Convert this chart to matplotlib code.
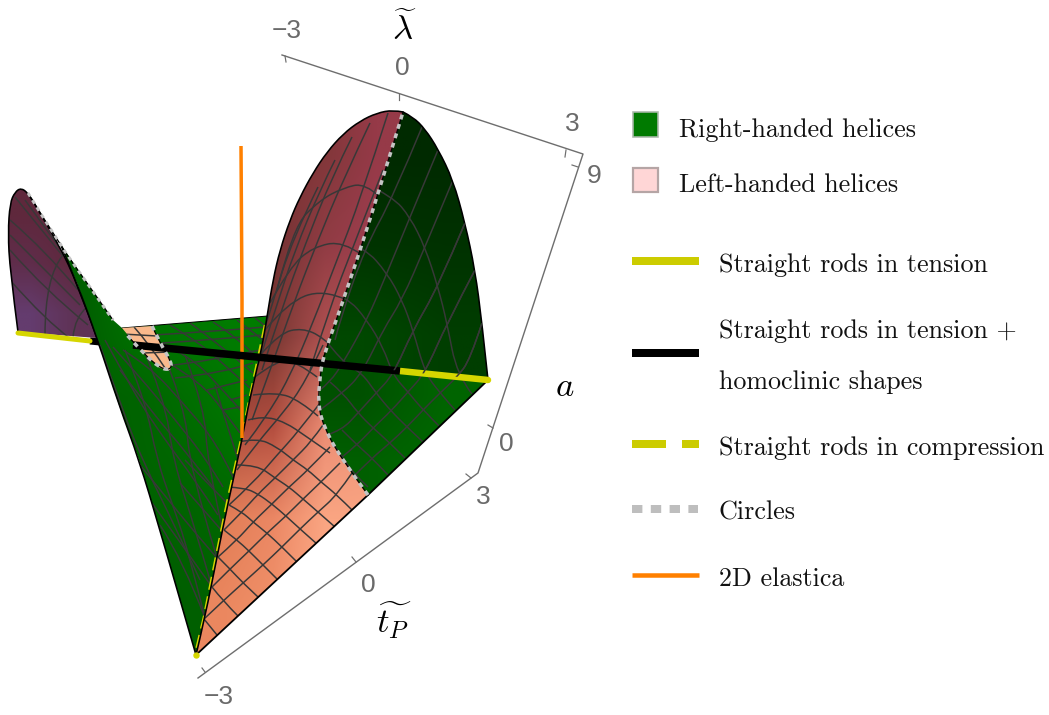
import matplotlib
matplotlib.use('Agg')
import matplotlib.pyplot as plt
import numpy as np
from matplotlib.patches import Polygon, Rectangle, PathPatch
from matplotlib.path import Path

px = 0.72   # one pixel in points at dpi 100

# surface outlines (pixels)
pink_left = [(403,112),(393,110),(377,113),(360,121),(343,134),(327,152),(313,173),(300,197),(290,220),(280,250),(273,280),(267,317),(262,347),(255,377),(248,407),(242,440),(228,503),(217,557),(205,617),(196,655)]
circle_curve = [(368,495),(340,457),(323,425),(318,403),(320,377),(323,357),(347,290),(377,198),(403,112)]
right_curve = [(403,112),(413,117),(425,129),(438,149),(453,180),(465,223),(475,270),(482,323),(488,380)]
rod_line = [(323,361),(400,371),(488,380)]
purple_out = [(18,332),(10,270),(8,233),(10,203),(15,192),(21,188),(28,193),(40,213),(60,247),(77,283),(97,338)]
green_left = [(60,243),(77,283),(97,338),(119,405),(139,460),(160,530),(196,655)]
green_right = [(196,655),(205,617),(217,557),(228,503),(242,440),(248,407),(268,316),(122,328),(113,320),(85,280)]
small_pink = [(122,328),(152,326),(160,343),(172,363),(170,370),(160,368),(143,353),(132,340)]

# colours across the surfaces (rows top to bottom, cols left to right)
pink_grid = [[(120,50,50),(120,50,50),(130,55,58),(150,58,72)],
             [(110,50,50),(115,50,50),(145,60,68),(160,62,80)],
             [(90,45,45),(120,55,50),(175,80,80),(195,88,88)],
             [(170,75,60),(180,78,63),(235,140,115),(240,150,125)],
             [(225,125,85),(235,135,100),(250,165,130),(250,165,130)],
             [(235,135,95),(240,145,105),(255,170,135),(255,170,135)]]
dark_grid = [[(0,42,0),(0,42,0)],[(0,52,0),(0,50,0)],[(0,72,0),(0,62,0)]]
low_grid = [[(0,80,0),(0,100,0)],[(0,95,0),(0,105,0)]]
green_grid = [[(0,95,0),(0,120,0),(0,125,0),(0,125,0)],
              [(0,95,0),(0,100,0),(0,110,0),(0,122,0)],
              [(0,95,0),(0,98,0),(0,100,0),(0,105,0)],
              [(0,90,0),(0,90,0),(0,95,0),(0,100,0)]]
purple_grid = [[(95,40,60),(95,40,60)],[(95,45,75),(95,40,60)],[(100,60,110),(95,50,85)]]

# mesh lines
pink_mesh = [
    [(204,619),(223,601),(243,583),(263,565),(282,547),(300,529),(318,512),(337,495),(352,473)],
    [(212,587),(230,569),(249,551),(267,533),(286,516),(303,499),(321,482),(340,463)],
    [(218,557),(237,540),(253,522),(272,504),(289,487),(308,470),(330,447)],
    [(224,530),(242,512),(258,494),(275,478),(293,460),(311,442),(323,425)],
    [(229,505),(253,483),(277,455),(298,432),(320,403)],
    [(237,470),(257,443),(283,413),(305,383),(323,345)],
    [(204,619),(217,635)],
    [(212,587),(223,601),(238,616)],
    [(218,557),(230,569),(243,583),(258,597)],
    [(224,530),(237,540),(249,551),(263,565),(278,580)],
    [(229,505),(242,512),(253,522),(267,533),(282,547),(297,562)],
    [(228,487),(245,488),(258,494),(272,504),(286,516),(300,529),(317,544)],
    [(237,465),(257,465),(275,478),(289,487),(303,499),(318,512),(335,527)],
    [(238,442),(257,438),(277,447),(293,460),(308,470),(321,482),(337,495),(352,510)],
    [(248,420),(263,416),(285,422),(307,437),(330,453)],
    [(253,395),(277,392),(300,401),(318,416)],
    [(255,377),(277,360),(297,362),(317,377)],
    [(262,353),(280,333),(302,328),(323,337),(335,350)],
    [(265,330),(287,303),(323,289),(347,300)],
    [(270,303),(290,267),(313,247),(343,241),(362,255)],
    [(277,290),(293,227),(320,200),(343,188),(365,183),(380,197)],
    [(388,113),(360,200),(337,260),(312,325),(292,372),(268,415),(245,445)],
    [(370,123),(343,180),(318,240),(293,305),(272,365),(252,420)],
    [(352,137),(332,177),(305,245),(283,305),(262,370)],
    [(335,160),(320,190),(295,250),(275,310),(258,365)],
    [(318,187),(292,240),(272,305),(258,350)],
    [(383,170),(353,247),(330,307),(310,370)],
]
right_mesh = [
    [(355,475),(372,458),(390,443),(407,427),(423,410),(440,393),(457,377),(470,360),(482,323)],
    [(342,457),(357,445),(373,428),(391,411),(408,392),(425,373),(447,323),(475,270)],
    [(327,435),(342,430),(358,413),(376,393),(393,375),(413,330),(438,287),(465,223)],
    [(320,410),(343,393),(362,373),(383,330),(402,300),(425,247),(453,180)],
    [(320,390),(330,382),(343,363),(367,320),(387,273),(410,217),(438,150)],
    [(335,340),(340,320),(365,248),(393,197),(422,127)],
    [(365,183),(393,197),(410,217),(425,247),(438,287),(447,323),(457,375),(472,394)],
    [(343,241),(365,248),(387,273),(402,300),(413,330),(425,373),(440,393),(455,410)],
    [(323,289),(347,297),(367,320),(383,347),(393,375),(408,392),(423,410),(439,426)],
    [(323,337),(343,363),(362,373),(376,393),(391,411),(407,427),(423,442)],
    [(330,382),(343,393),(358,413),(373,428),(390,443),(405,458)],
    [(342,430),(357,445),(372,458),(388,475)],
    [(327,435),(342,457),(355,475),(368,487)],
]
green_mesh = [
    [(170,325),(200,343),(230,370),(250,388)],
    [(190,323),(223,347),(253,373)],
    [(213,322),(237,337),(260,360)],
    [(237,320),(263,340)],
    [(255,318),(268,328)],
    [(162,343),(190,357),(217,383),(243,413)],
    [(172,365),(200,382),(223,410),(240,433)],
    [(123,350),(150,367),(183,403),(217,443),(233,477)],
    [(113,347),(140,377),(173,417),(207,460),(223,487)],
    [(120,370),(150,410),(187,453),(213,487)],
    [(105,340),(135,395),(165,440),(195,480),(218,515)],
    [(100,345),(122,410),(147,470),(172,520),(200,580)],
    [(140,465),(170,502),(197,535),(217,558)],
    [(152,503),(177,538),(212,587)],
    [(160,525),(183,560),(205,618)],
    [(180,483),(223,532)],
    [(185,460),(227,503)],
    [(125,350),(145,400),(157,460),(172,503),(188,550),(205,618)],
    [(140,340),(165,400),(173,460),(197,535),(212,587)],
    [(160,345),(185,405),(190,470),(217,558)],
    [(185,355),(205,410),(207,460),(223,532)],
    [(215,385),(228,430),(240,465)],
    [(153,335),(207,332),(265,327)],
    [(162,343),(210,340),(263,335)],
    [(173,365),(203,362),(260,350)],
    [(175,378),(223,373),(253,363)],
    [(207,390),(247,380)],
    [(222,410),(240,407)],
    [(230,400),(247,395)],
]
purple_mesh = [
    [(15,197),(62,255)],
    [(25,200),(65,255)],
    [(10,220),(45,250),(78,290)],
    [(10,235),(45,270),(80,305)],
    [(10,250),(45,290),(88,325)],
    [(10,280),(45,320),(72,340)],
    [(45,335),(45,277),(63,255)],
    [(73,337),(75,317),(87,307)],
]
small_mesh = [
    [(134,327),(150,345),(165,368)],
    [(122,334),(157,336)],
    [(143,353),(170,352)],
]

# rods and special curves
yellow_left = [(18,333),(90,341)]
black_a = [(90,341),(100,342)]
black_b = [(133,345),(400,371)]
yellow_right = [(400,371),(488,380)]
yellow_edge = [(266,325),(242,440),(228,503),(217,557),(205,617),(196,655)]
orange_line = [(241,146),(242,300),(242,438)]
ridge_dots = [(28,193),(60,245),(85,280),(113,320)]
small_dots = [(152,326),(160,343),(172,363),(170,370),(160,368),(143,353),(127,335)]

# box and ticks
box_line = [(282,55),(583,154),(478,473),(198,678)]
tick_lines = [[(285,56),(286,62)],[(399,94),(399,100)],[(566,150),(565,157)],[(572,165),(578,167)],
              [(488,425),(493,428)],[(466,474),(471,478)],[(352,557),(356,562)],[(202,668),(205,672)]]
tick_text = ['\u22123','0','3','9','0','3','0','\u22123']
tick_pos = [(287,31),(402,68),(572,124),(594,176),(506,444),(483,497),(368,585),(219,697)]

# legend
legend_names = ['Right-handed helices','Left-handed helices','Straight rods in tension','Straight rods in tension +',
                'homoclinic shapes','Straight rods in compression','Circles','2D elastica']
legend_y = [130,185,265,331,382,448,513,579]
legend_x = [679,679,719,719,719,719,719,719]


def xy(pts):
    a = np.array(pts, dtype=float)
    return a[:,0], a[:,1]

# rounds the corners of a read-off polyline with quadratic curves
def smooth(pts):
    a = np.array(pts, dtype=float)
    if len(a) < 3:
        return Path(a)
    verts = [a[0]]
    codes = [Path.MOVETO]
    for i in range(1, len(a)-1):
        end = a[-1] if i == len(a)-2 else (a[i]+a[i+1])/2
        verts += [a[i], end]
        codes += [Path.CURVE3, Path.CURVE3]
    return Path(verts, codes)

def flat(pts):
    return [tuple(v) for v in smooth(pts).to_polygons(closed_only=False)[0]]

def shade(grid, pts):
    a = np.array(pts, dtype=float)
    x0, x1, y0, y1 = a[:,0].min(), a[:,0].max(), a[:,1].min(), a[:,1].max()
    poly = Polygon(a, closed=True, transform=ax.transData, fc='none', ec='none')
    ax.add_patch(poly)
    im = ax.imshow(np.array(grid, dtype=float)/255, extent=[x0,x1,y1,y0], interpolation='bilinear', aspect='auto', zorder=z[0])
    im.set_clip_path(poly)
    z[0] += 1
    return poly

def curve(pts, c='black', w=1.5, **kw):
    pp = PathPatch(smooth(pts), fc='none', ec=c, lw=w*px, zorder=z[0], **kw)
    ax.add_patch(pp)
    return pp

def mesh(lines, poly, c='#383838', w=1.5):
    for l in lines:
        pp = curve(l, c=c, w=w)
        pp.set_clip_path(poly)
    z[0] += 1

def edge(pts, w=1.6):
    curve(pts, w=w, capstyle='round')
    z[0] += 1

fig = plt.figure(figsize=(10.49,7.15), dpi=100)
ax = fig.add_axes([0,0,1,1])
z = [2]

# box
x, y = xy(box_line)
ax.plot(x, y, color='#6e6e6e', lw=1.4*px, zorder=1)
for t in tick_lines:
    x, y = xy(t)
    ax.plot(x, y, color='#6e6e6e', lw=1.2*px, zorder=1)
for s, p in zip(tick_text, tick_pos):
    ax.text(p[0], p[1], s, family='Liberation Sans', fontsize=19, color='#6a6a6a', ha='center', va='center')

plt.rcParams['mathtext.fontset'] = 'cm'
ax.text(404, 29, r'$\widetilde{\lambda}$', fontsize=25, ha='center', va='center')
ax.text(565, 386, r'$a$', fontsize=25, ha='center', va='center')
ax.text(394, 621, r'$\widetilde{t_P}$', fontsize=25, ha='center', va='center')

# purple sheet
pu = shade(purple_grid, flat(purple_out))
mesh(purple_mesh, pu)
edge(purple_out)

# black stub behind the green ridge
x, y = xy(black_a)
ax.plot(x, y, color='black', lw=7*px, solid_capstyle='butt', zorder=z[0])
z[0] += 1

# green sheet
g = shade(green_grid, green_left + green_right[1:])
mesh(green_mesh, g)
edge(green_left)
edge(green_right[6:8], w=1.0)

# small pink patch
s = Polygon(np.array(small_pink, dtype=float), closed=True, fc='#fab98c', ec='none', zorder=z[0])
ax.add_patch(s)
z[0] += 1
mesh(small_mesh, s)

# yellow dashes peeping out along the fold
x, y = xy(yellow_edge)
ax.plot(np.array(x)-1.2, y, color='#d6d600', lw=2.2*px, ls=(0,(6,3)), dash_capstyle='butt', zorder=z[0])
z[0] += 1

# big pink sheet
pk = shade(pink_grid, flat(pink_left) + flat(circle_curve))
mesh(pink_mesh, pk)

# right dark sheet, cut at the rod line
up = shade(dark_grid, flat(right_curve) + rod_line[::-1] + flat(circle_curve[5:]))
lw = shade(low_grid, rod_line + flat(circle_curve[:5]))
mesh(right_mesh, up)
mesh(right_mesh, lw)

edge(pink_left)
edge(right_curve)
edge([(196,655),(368,495)], w=1.8)
edge([(368,495),(488,380)], w=1.8)

# orange stays under the black rod
x, y = xy(orange_line)
ax.plot(x, y, color='#ff8000', lw=3.5*px, solid_capstyle='butt', zorder=z[0])
z[0] += 1

# rods
x, y = xy(yellow_left)
ax.plot(x, y, color='#d6d600', lw=5*px, solid_capstyle='round', zorder=z[0])
x, y = xy(yellow_right)
ax.plot(x, y, color='#d6d600', lw=6.5*px, solid_capstyle='round', zorder=z[0])
x, y = xy(black_b)
ax.plot(x, y, color='black', lw=7.5*px, solid_capstyle='butt', zorder=z[0]+1)
z[0] += 2
# mesh shows on top of the yellow rod
mesh(right_mesh[:3], up)

# circles
for c, w in ((circle_curve, 3.5), (small_dots, 3.5), (ridge_dots, 3)):
    curve(c, w=1.2)
    z[0] += 1
    curve(c, c='#c4c4c4', w=w, ls=(0,(1.4,1.4)), capstyle='butt')
    z[0] += 1
ax.plot([196],[655], 'o', color='#d6d600', ms=5*px, zorder=z[0])

# legend
ax.add_patch(Rectangle((633,112),25,25, fc='#007a00', ec='#a9b8a9', lw=1.6*px))
ax.add_patch(Rectangle((633,168),25,24, fc='#ffd6d6', ec='#b5a5a5', lw=2.2*px))
ax.plot([632,699],[261,261], color='#cccc00', lw=8*px, solid_capstyle='butt')
ax.plot([632,699],[353,353], color='black', lw=8*px, solid_capstyle='butt')
ax.plot([632,666],[444,444], color='#cccc00', lw=8*px, solid_capstyle='butt')
ax.plot([682,699],[444,444], color='#cccc00', lw=8*px, solid_capstyle='butt')
ax.plot([632,698],[509,509], color='#bebebe', lw=8*px, ls=(0,(1.3,1.05)), dash_capstyle='butt')
ax.plot([632,699],[575,575], color='#ff8000', lw=4.5*px, solid_capstyle='butt')
for name, lx, ly in zip(legend_names, legend_x, legend_y):
    ax.text(lx, ly, name, family='cmr10', fontsize=18.75, color='#111111', ha='left', va='center')

ax.set_xlim(0,1049)
ax.set_ylim(715,0)
ax.axis('off')
fig.savefig('out.png', dpi=100)
